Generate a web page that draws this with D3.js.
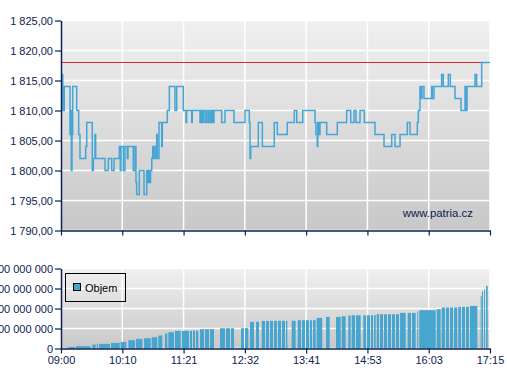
<!DOCTYPE html>
<html><head><meta charset="utf-8">
<script src="https://cdn.jsdelivr.net/npm/d3@7"></script>
<style>
html,body{margin:0;padding:0;background:#fff;}
svg{display:block;font-family:"Liberation Sans",Arial,sans-serif;}
</style></head>
<body><svg id="c" width="507" height="380"></svg>
<script>
// ---- data ----
// minutes after 09:00
const timeTicks = [0, 70.71, 141.43, 212.14, 282.86, 353.57, 424.29, 495];
const timeLabels = ["09:00","10:10","11:21","12:32","13:41","14:53","16:03","17:15"];
const priceTicks = [1790,1795,1800,1805,1810,1815,1820,1825];
const priceLabels = ["1 790,00","1 795,00","1 800,00","1 805,00","1 810,00","1 815,00","1 820,00","1 825,00"];
const volTicks = [0,200,400,600,800]; // millions
const volLabels = ["0","200 000 000","400 000 000","600 000 000","800 000 000"];
const referencePrice = 1818;

const priceTime = [0,2.0,3.8,10.4,11.2,11.9,12.7,13.5,18.1,20.4,21.9,28.5,29.7,36.1,37.3,39.2,40.0,50.8,54.6,58.5,61.2,67.3,68.4,69.2,71.9,73.8,76.5,77.3,83.4,85.4,86.5,87.3,90.3,95.8,98.9,99.8,101.0,102.1,103.3,104.7,105.8,106.5,107.7,108.5,110.4,111.1,113.1,116.2,116.9,122.7,125.0,131.5,133.5,141.1,144.2,145.0,150.8,151.5,160.4,161.5,162.7,164.2,166.2,168.1,170.0,171.9,173.1,174.2,175.4,176.5,185.4,189.2,199.6,212.3,217.3,218.1,218.9,227.7,232.3,246.1,249.6,261.1,269.2,272.0,278.9,293.1,294.2,295.7,296.3,297.7,298.8,306.6,318.8,329.6,334.3,338.1,340.4,345.0,350.0,362.3,372.7,381.6,385.4,391.2,399.6,402.7,411.1,412.3,414.2,415.4,416.5,418.8,427.7,428.4,430.4,439.2,441.1,446.9,449.2,454.6,461.5,466.2,467.3,468.5,477.7,479.6,485.4,495];
const priceValue = [1816,1810,1814,1806,1810,1800,1806,1814,1810,1806,1802,1804,1808,1800,1802,1806,1802,1800,1802,1800,1802,1804,1800,1804,1800,1804,1802,1804,1800,1804,1798,1796,1800,1796,1800,1798,1800,1798,1800,1802,1804,1802,1804,1802,1806,1802,1808,1804,1808,1810,1814,1810,1814,1810,1808,1810,1808,1810,1808,1810,1808,1810,1808,1810,1808,1810,1808,1810,1808,1810,1808,1810,1808,1810,1808,1802,1804,1808,1804,1808,1806,1808,1810,1808,1810,1808,1806,1804,1808,1806,1808,1806,1808,1810,1808,1810,1808,1810,1808,1806,1804,1806,1804,1806,1808,1806,1808,1810,1814,1812,1814,1812,1814,1812,1814,1816,1814,1816,1814,1812,1810,1814,1810,1814,1816,1814,1818,1818];

// cumulative volume (millions); null = no trades in that interval
const volTime = [5.4,8.4,17.3,35.4,36.1,41.2,43.8,57.7,68.9,76.5,77.7,86.5,95.0,95.8,104.7,112.3,118.0,120.0,123.8,131.5,139.3,139.6,148.8,152.3,155.8,159.6,160.4,166.2,171.9,177.7,183.5,190.4,196.2,200.8,207.7,212.3,217.3,218.1,223.8,225.0,229.6,231.6,236.5,241.2,245.8,250.4,255.0,259.6,262.3,266.2,271.9,273.1,278.1,282.7,287.3,290.8,295.0,302.6,305.8,311.2,317.3,323.9,329.6,331.5,335.4,340.4,346.9,348.8,353.1,357.7,361.2,364.3,368.1,372.7,377.3,381.9,386.5,391.2,398.9,400.0,405.0,410.4,411.1,413.4,433.5,439.2,444.2,448.8,453.5,458.4,462.7,467.3,471.9,481.5,484.2,485.7,488.1,490.4,493.5];
const volValue = [10,15,23,null,40,46,46,56,66,null,83,96,null,103,113,130,null,150,163,176,null,177,177,178,178,null,193,193,194,null,203,203,203,null,203,204,null,266,null,268,null,276,276,276,277,277,277,277,null,278,null,283,283,283,283,283,306,null,316,null,316,323,null,330,333,333,null,333,333,333,333,343,343,343,343,343,343,356,null,356,356,null,370,383,393,410,410,410,410,416,416,416,426,null,523,573,590,626,null];

// ---- drawing ----
const svg = d3.select("#c");
const navy = "#0c2252";
const L = 61, R = 490;
const x = d3.scaleLinear().domain([0,495]).range([L,R]);
const y = d3.scaleLinear().domain([1790,1825]).range([230.5,20.5]);
const yv = d3.scaleLinear().domain([0,800]).range([348.5,268.5]);

const defs = svg.append("defs");
const g1 = defs.append("linearGradient").attr("id","bg").attr("x1",0).attr("y1",0).attr("x2",0).attr("y2",1);
g1.append("stop").attr("offset","0%").attr("stop-color","#f0f0f0");
g1.append("stop").attr("offset","100%").attr("stop-color","#c8c8c8");

// backgrounds
svg.append("rect").attr("x",L).attr("y",y(1825)).attr("width",R-L).attr("height",y(1790)-y(1825)).attr("fill","url(#bg)");
svg.append("rect").attr("x",L).attr("y",yv(800)).attr("width",R-L).attr("height",yv(0)-yv(800)).attr("fill","url(#bg)");

// grid
function grid(ys, yscale, ticks){
  const g = svg.append("g").attr("stroke","#fff").attr("stroke-width",1.5);
  ticks.forEach(t=>g.append("line").attr("x1",L).attr("x2",R).attr("y1",yscale(t)).attr("y2",yscale(t)));
  timeTicks.forEach(t=>g.append("line").attr("x1",x(t)).attr("x2",x(t)).attr("y1",ys[0]).attr("y2",ys[1]));
}
grid([y(1825),y(1790)], y, priceTicks);
grid([yv(800),yv(0)], yv, volTicks);

// red reference line
svg.append("line").attr("x1",L).attr("x2",R).attr("y1",y(referencePrice)).attr("y2",y(referencePrice))
  .attr("stroke","#e02626").attr("stroke-width",1.2);

// price step line
const pts = priceTime.map((t,i)=>[t,priceValue[i]]);
svg.append("path").datum(pts)
  .attr("d", d3.line().x(d=>x(d[0])).y(d=>y(d[1])).curve(d3.curveStepAfter))
  .attr("fill","none").attr("stroke","#45a6d6").attr("stroke-width",1.5);

// volume bars
const bars = [];
for (let i=0;i<volTime.length-1;i++){
  if (volValue[i]==null) continue;
  bars.push({t0:volTime[i], t1:volTime[i+1], v:volValue[i]});
}
svg.append("g").selectAll("rect").data(bars).join("rect")
  .attr("x", d=>x(d.t0))
  .attr("width", d=>Math.max(1, x(d.t1)-x(d.t0)-1))
  .attr("y", d=>yv(d.v))
  .attr("height", d=>yv(0)-yv(d.v))
  .attr("fill","#47a6cf");

// axes
function styleAxis(g){
  g.select(".domain").attr("stroke",navy).attr("stroke-width",1.5);
  g.selectAll(".tick line").attr("stroke",navy).attr("stroke-width",1.2);
  g.selectAll(".tick text").attr("fill",navy).attr("font-size","11px").attr("font-family","'Liberation Sans',Arial,sans-serif");
}
svg.append("g").attr("transform",`translate(${L},0)`)
  .call(d3.axisLeft(y).tickValues(priceTicks).tickFormat((d,i)=>priceLabels[i]).tickSize(6).tickSizeOuter(0).tickPadding(2))
  .call(styleAxis);
svg.append("g").attr("transform",`translate(0,${y(1790)})`)
  .call(d3.axisBottom(x).tickValues(timeTicks).tickFormat("").tickSize(5).tickSizeOuter(0))
  .call(styleAxis);
svg.append("g").attr("transform",`translate(${L},0)`)
  .call(d3.axisLeft(yv).tickValues(volTicks).tickFormat((d,i)=>volLabels[i]).tickSize(6).tickSizeOuter(0).tickPadding(2))
  .call(styleAxis);
svg.append("g").attr("transform",`translate(0,${yv(0)})`)
  .call(d3.axisBottom(x).tickValues(timeTicks).tickFormat((d,i)=>timeLabels[i]).tickSize(5).tickSizeOuter(0).tickPadding(3))
  .call(styleAxis);

// watermark
svg.append("text").attr("x",473).attr("y",217).attr("text-anchor","end")
  .attr("font-size","11.4px").attr("fill",navy).text("www.patria.cz");

// legend
const lg = svg.append("g");
lg.append("rect").attr("x",65.5).attr("y",273.5).attr("width",60).attr("height",28)
  .attr("fill","none").attr("stroke","#000").attr("stroke-width",1);
lg.append("rect").attr("x",73.5).attr("y",283.5).attr("width",7).attr("height",7)
  .attr("fill","#47a6cf").attr("stroke","#000").attr("stroke-width",1);
lg.append("text").attr("x",85).attr("y",291.5).attr("font-size","11px").attr("fill","#000").text("Objem");
</script></body></html>
